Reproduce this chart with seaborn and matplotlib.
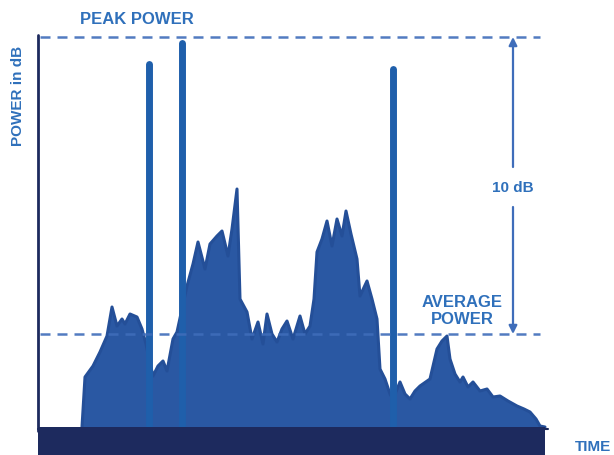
import matplotlib
matplotlib.use("Agg")
import matplotlib.pyplot as plt
import pandas as pd
import seaborn as sns

# schematic in picture units: x = time, y = level (0 at top, growing down)
noise_x = [82, 85, 93, 100, 107, 112, 117, 122, 125, 130, 137, 142, 146, 149, 153, 158, 163, 167,
           173, 177, 182, 187, 193, 198, 205, 210, 217, 222, 228, 232, 237, 240, 247, 252, 258, 263,
           267, 272, 277, 282, 287, 293, 300, 305, 310, 314, 317, 322, 327, 332, 337, 342, 346, 351,
           357, 360, 367, 372, 377, 380, 385, 390, 393, 400, 405, 410, 415, 420, 430, 437, 442, 447,
           450, 455, 460, 463, 468, 473, 480, 487, 493, 500, 508, 517, 524, 530, 536, 540, 545]
noise_top = [428, 378, 367, 353, 337, 308, 327, 320, 325, 315, 318, 330, 345, 360, 377, 367, 362, 372,
             340, 333, 310, 287, 265, 243, 270, 245, 237, 232, 257, 230, 190, 300, 313, 340, 323, 345,
             315, 335, 343, 330, 322, 340, 317, 335, 327, 300, 253, 240, 222, 247, 220, 237, 212, 235,
             260, 297, 282, 300, 320, 370, 380, 395, 400, 383, 395, 400, 392, 387, 380, 350, 342, 337,
             360, 375, 383, 378, 388, 383, 392, 390, 398, 397, 402, 407, 410, 413, 420, 427, 428]

spike_x = [149, 182, 393]
spike_top = [65, 44, 70]

floor_level = 428
peak_level = 38
average_level = 335
line_start = 40
line_end = 540
arrow_x = 513

NAVY = "#1d2a5e"
NOISE = "#2a58a3"
SPIKE = "#1f5fab"
DASH = "#3f6dba"
TEXT = "#2f70bb"

sns.set_theme(style="white")
plt.rcParams["font.family"] = ["Liberation Sans", "DejaVu Sans"]

fig = plt.figure(figsize=(6.14, 4.56), dpi=100)
ax = fig.add_axes([0, 0, 1, 1])
ax.set_xlim(0, 614)
ax.set_ylim(456, 0)
ax.axis("off")

noise = pd.DataFrame({"time": noise_x, "level": noise_top})

# noise envelope
ax.fill_between(noise["time"], noise["level"], floor_level, color=NOISE, lw=0, zorder=2)
sns.lineplot(data=noise, x="time", y="level", color="#244f98", lw=2.2, ax=ax, zorder=3)

# tall spikes
for sx, st in zip(spike_x, spike_top):
    ax.plot([sx, sx], [st, floor_level + 4], color=SPIKE, lw=5,
            solid_capstyle="round", zorder=4)

# baseline bar and vertical axis
ax.fill_between([38, 545], floor_level, 456, color=NAVY, lw=0, zorder=5)
ax.plot([38, 548], [430, 430], color=NAVY, lw=1.5, zorder=5)
ax.plot([38, 38], [peak_level - 2, 432], color=NAVY, lw=2, zorder=5)

# reference levels
levels = pd.DataFrame({"time": [line_start, line_end, line_start, line_end],
                       "level": [peak_level, peak_level, average_level, average_level],
                       "kind": ["peak", "peak", "average", "average"]})
for kind, grp in levels.groupby("kind"):
    sns.lineplot(data=grp, x="time", y="level", color=DASH, lw=1.8, ax=ax, zorder=6,
                 dashes=False, linestyle=(0, (4, 2.8)), alpha=0.9)

# 10 dB span arrows
arrow_kw = dict(arrowstyle="-|>", color=DASH, lw=1.6, mutation_scale=12, shrinkA=0, shrinkB=0)
ax.annotate("", xy=(arrow_x, peak_level), xytext=(arrow_x, 168), arrowprops=arrow_kw, zorder=6)
ax.annotate("", xy=(arrow_x, average_level), xytext=(arrow_x, 208), arrowprops=arrow_kw, zorder=6)

ax.text(arrow_x, 188, "10 dB", color=TEXT, fontsize=11, fontweight="bold", ha="center", va="center")
ax.text(137, 19, "PEAK POWER", color=TEXT, fontsize=12, fontweight="bold", ha="center", va="center")
ax.text(462, 311, "AVERAGE\nPOWER", color=TEXT, fontsize=12, fontweight="bold", ha="center",
        va="center", linespacing=1.15)
ax.text(18, 96, "POWER in dB", color=TEXT, fontsize=11, fontweight="bold", rotation=90,
        ha="center", va="center")
ax.text(611, 447, "TIME", color=TEXT, fontsize=11, fontweight="bold", ha="right", va="center")

fig.savefig("out.png", dpi=100)
